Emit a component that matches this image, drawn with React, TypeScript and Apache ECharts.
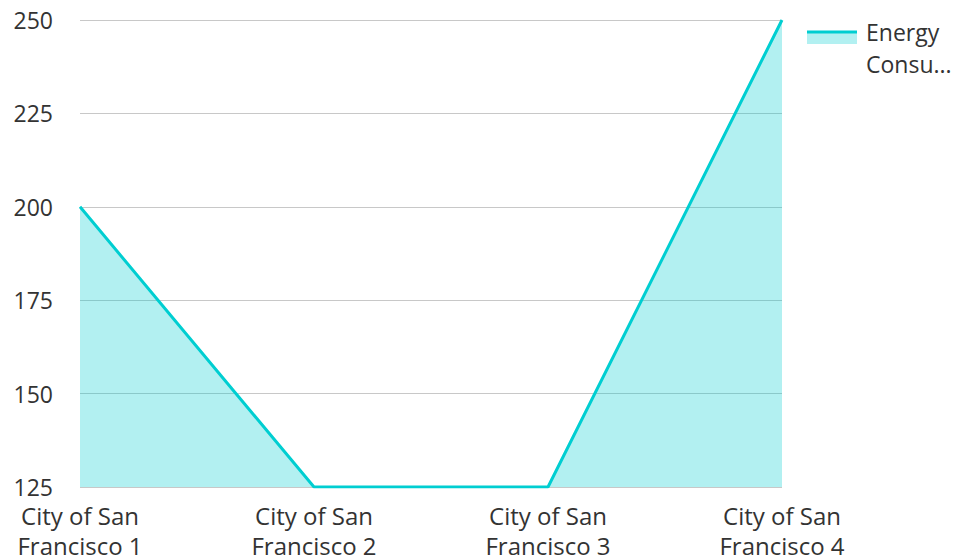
import React, { useEffect, useRef } from "react";
import * as echarts from "echarts";

const categories = [
  "City of San Francisco 1",
  "City of San Francisco 2",
  "City of San Francisco 3",
  "City of San Francisco 4",
];
const seriesName = "Energy Consumption";
const values = [200, 125, 125, 250];
const yMin = 125;
const yMax = 250;
const yInterval = 25;

const LINE = "#00CED1";
const FONT = "'Open Sans', 'Noto Sans', sans-serif";

export default function App() {
  const ref = useRef<HTMLDivElement>(null);
  useEffect(() => {
    if (!ref.current) return;
    const chart = echarts.init(ref.current, undefined, { renderer: "svg" });
    chart.setOption({
      animation: false,
      textStyle: { fontFamily: FONT },
      grid: { left: 80, right: 179, top: 20, bottom: 73, containLabel: false },
      xAxis: {
        type: "category",
        data: categories,
        boundaryGap: false,
        axisLine: { show: false },
        axisTick: { show: false },
        axisLabel: {
          color: "#333",
          fontSize: 24,
          fontFamily: FONT,
          margin: 13,
          lineHeight: 30,
          align: "center",
          interval: 0,
          formatter: (v: string) => v.replace(/ (Francisco)/, "\n$1"),
        },
      },
      yAxis: {
        type: "value",
        min: yMin,
        max: yMax,
        interval: yInterval,
        axisLine: { show: false },
        axisTick: { show: false },
        axisLabel: { color: "#333", fontSize: 23, lineHeight: 20, fontFamily: FONT, margin: 27 },
        splitLine: { lineStyle: { color: "#c8c8c8", width: 1 } },
      },
      series: [
        {
          name: seriesName,
          type: "line",
          data: values,
          symbol: "none",
          lineStyle: { color: LINE, width: 3 },
          itemStyle: { color: LINE },
          areaStyle: { color: LINE, opacity: 0.3 },
        },
      ],
      graphic: [
        {
          type: "rect",
          left: 807,
          top: 31,
          shape: { width: 50, height: 13 },
          style: { fill: "rgba(0,206,209,0.3)" },
        },
        {
          type: "line",
          shape: { x1: 807, y1: 32, x2: 857, y2: 32 },
          style: { stroke: LINE, lineWidth: 3 },
        },
        {
          type: "text",
          left: 866,
          top: 16,
          style: {
            text: "Energy\n" + seriesName.split(" ")[1].slice(0, 5) + "...",
            fontSize: 23,
            lineHeight: 32,
            fill: "#333",
            fontFamily: FONT,
          },
        },
      ],
    });
    return () => chart.dispose();
  }, []);
  return (
    <div
      ref={ref}
      style={{ width: 961, height: 560, position: "absolute", left: 0, top: 0, overflow: "hidden" }}
    />
  );
}
